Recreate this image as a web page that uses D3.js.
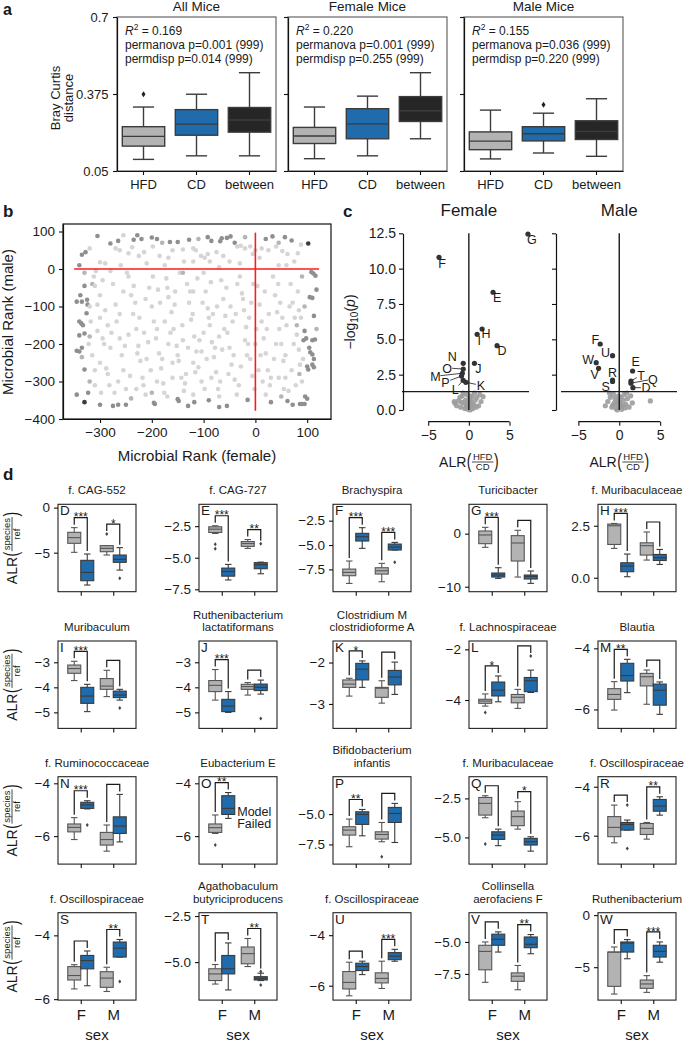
<!DOCTYPE html>
<html><head><meta charset="utf-8">
<script src="https://cdn.jsdelivr.net/npm/d3@7"></script>
<style>
body{margin:0;background:#fff}
text{font-family:"Liberation Sans",Arial,Helvetica,sans-serif;fill:#1a1a1a}
</style>
</head><body>
<script>
// ---------------- DATA ----------------
// Panel a : box stats [low, q1, median, q3, high]
const aGroups = ["HFD","CD","between"];
const aTitles = ["All Mice","Female Mice","Male Mice"];
const aTicks = [0.05,0.375,0.7];
const aTickLabels = ["0.05","0.375","0.7"];
const aAllMice = [[0.099,0.155,0.196,0.237,0.32],[0.114,0.201,0.248,0.309,0.374],[0.114,0.214,0.265,0.318,0.465]];
const aFemaleMice = [[0.102,0.166,0.198,0.234,0.32],[0.114,0.186,0.249,0.313,0.366],[0.186,0.259,0.304,0.364,0.465]];
const aMaleMice = [[0.101,0.140,0.176,0.215,0.307],[0.126,0.177,0.207,0.237,0.294],[0.112,0.183,0.217,0.262,0.355]];
const aOutliers = [[[0.374],[],[]],[[],[],[]],[[],[0.33],[]]];
const aR2 = ["0.169","0.220","0.155"];
const aPermanova = ["0.001","0.001","0.036"];
const aPermdisp = ["0.014","0.255","0.220"];

// Panel b : [female rank, male rank, shade(1 light..4 dark)]
const bPoints = [
[-305,88,3],[-280,68,3],[-265,75,3],[-235,78,3],[-228,90,3],[-220,80,3],[-200,84,3],[-190,80,3],[-165,72,3],[-150,72,3],[-128,78,3],[-92,85,3],[-85,75,3],[-68,74,3],[-65,82,3],[-55,83,3],[-48,87,3],[-40,70,3],[20,80,3],[33,87,3],[57,85,3],[70,76,3],[102,68,4],
[-255,90,1],[-290,15,1],[-300,18,1],[-270,55,1],[-262,50,1],[-245,42,1],[-238,58,1],[-225,35,1],[-215,45,1],[-210,15,1],[-198,60,1],[-185,35,1],[-175,10,1],[-168,30,1],[-160,50,1],[-140,52,1],[-138,20,1],[-120,55,1],[-115,50,1],[-105,35,1],[-98,30,1],[-92,40,1],[-88,20,1],[-75,45,1],[-70,5,1],[-62,35,1],[-50,20,1],[-35,60,1],[-28,62,1],[-20,55,1],[-10,60,1],[-5,40,1],[8,30,1],[12,55,1],[25,50,1],[40,60,1],[45,10,1],[52,48,1],[62,40,1],[75,20,1],[82,42,1],[88,65,1],[-320,55,1],[-280,-5,1],[-312,-20,1],
[-335,38,3],[-328,45,3],[-340,10,3],[-330,-45,3],[-338,-70,3],[-345,-87,3],[-335,-87,3],[-325,-82,3],[-324,-95,3],[-326,-118,3],[-340,-140,3],[-336,-145,3],[-333,-150,3],[-340,-177,3],[-330,-172,3],[-345,-218,3],[-340,-220,3],[-335,-210,3],[-330,-268,3],[-345,-335,3],[-323,-330,3],[-330,-355,4],
[108,-8,3],[112,-12,3],[116,-18,3],[118,-55,3],[105,-75,3],[110,-77,3],[113,-125,3],[95,-165,3],[98,-185,3],[93,-190,3],[110,-190,3],[115,-188,3],[104,-210,3],[106,-222,3],[110,-228,3],[113,-240,3],[110,-255,3],[113,-262,3],[100,-260,3],[102,-268,3],[96,-340,3],[100,-346,3],[86,-360,3],[90,-360,3],[95,-360,3],
[-300,-362,3],[-275,-365,3],[-265,-362,3],[-250,-362,3],[-196,-357,3],[-194,-360,3],[-150,-347,3],[-148,-352,3],[-130,-365,3],[-118,-355,3],[-90,-350,3],[-70,-368,3],[-55,-365,3],[-15,-349,3],[30,-355,3],[62,-352,3],[72,-362,3],
[-320,-300,2],[-335,-235,2],[-320,-180,2],[-315,-40,2],[90,-20,2],[95,-100,2],[85,-280,2],[-200,-330,2],[-240,-345,2],[50,-340,2],[-330,-10,2],[118,-160,2],[80,-150,2],
[-310,-45,1],[-300,-70,1],[-295,-30,1],[-290,-110,1],[-285,-150,1],[-292,-200,1],[-300,-250,1],[-285,-280,1],[-310,-310,1],[-298,-330,1],[-275,-40,1],[-270,-95,1],[-268,-140,1],[-262,-185,1],[-258,-230,1],[-255,-270,1],[-250,-320,1],[-245,-20,1],[-240,-70,1],[-236,-120,1],[-230,-160,1],[-226,-205,1],[-222,-245,1],[-218,-290,1],[-212,-335,1],[-205,-50,1],[-200,-100,1],[-196,-140,1],[-192,-185,1],[-186,-225,1],[-182,-265,1],[-178,-305,1],[-172,-25,1],[-168,-75,1],[-162,-115,1],[-158,-160,1],[-152,-205,1],[-148,-245,1],[-143,-290,1],[-138,-325,1],[-132,-40,1],[-128,-90,1],[-124,-135,1],[-118,-180,1],[-114,-220,1],[-110,-262,1],[-104,-300,1],[-100,-10,1],[-96,-60,1],[-92,-105,1],[-88,-150,1],[-84,-195,1],[-80,-235,1],[-76,-275,1],[-72,-320,1],[-66,-30,1],[-62,-80,1],[-58,-125,1],[-54,-170,1],[-50,-210,1],[-46,-255,1],[-40,-295,1],[-36,-335,1],[-30,-20,1],[-26,-65,1],[-22,-110,1],[-18,-155,1],[-14,-200,1],[-10,-240,1],[-6,-285,1],[-2,-320,1],[4,-45,1],[8,-95,1],[12,-140,1],[16,-185,1],[20,-225,1],[24,-270,1],[28,-310,1],[34,-20,1],[38,-70,1],[42,-115,1],[46,-160,1],[50,-200,1],[54,-245,1],[58,-290,1],[64,-325,1],[68,-40,1],[72,-90,1],[76,-130,1],[80,-175,1],[84,-215,1],[86,-255,1],[90,-300,1],[-320,-100,1],[-315,-230,1],[-305,-165,1],[-280,-210,1],[-265,-300,1],[-245,-175,1],[-232,-90,1],[-210,-240,1],[-190,-300,1],[-175,-140,1],[-155,-60,1],[-140,-190,1],[-120,-250,1],[-100,-170,1],[-82,-120,1],[-64,-215,1],[-44,-140,1],[-28,-260,1],[-8,-90,1],[14,-300,1],[36,-240,1],[60,-150,1],[82,-60,1],[-188,-55,1],[-168,-200,1],[-134,-280,1],[-104,-220,1],[-70,-180,1],[-48,-100,1],[-20,-190,1],[2,-160,1],[26,-120,1],[48,-90,1],[70,-270,1],[-300,-130,1],[-255,-60,1],[-215,-170,1],[-160,-250,1],[-120,-60,1],[-85,-290,1],[-35,-40,1],[10,-230,1],[55,-320,1],[88,-130,1],
[-305,-95,1],[-295,-185,1],[-288,-265,1],[-278,-170,1],[-272,-330,1],[-262,-120,1],[-252,-205,1],[-248,-10,1],[-242,-285,1],[-235,-45,1],[-228,-225,1],[-224,-130,1],[-216,-310,1],[-212,-80,1],[-207,-195,1],[-202,-270,1],[-198,-20,1],[-190,-160,1],[-184,-90,1],[-180,-240,1],[-176,-330,1],[-170,-50,1],[-164,-170,1],[-160,-290,1],[-156,-95,1],[-150,-230,1],[-146,-10,1],[-141,-150,1],[-136,-305,1],[-130,-210,1],[-126,-60,1],[-121,-120,1],[-116,-275,1],[-112,-25,1],[-108,-190,1],[-102,-90,1],[-98,-320,1],[-94,-240,1],[-90,-130,1],[-86,-35,1],[-78,-210,1],[-74,-100,1],[-68,-300,1],[-60,-160,1],[-56,-50,1],[-52,-280,1],[-42,-230,1],[-38,-120,1],[-32,-310,1],[-24,-80,1],[-16,-230,1],[-12,-130,1],[-4,-40,1],[0,-200,1],[6,-270,1],[18,-60,1],[22,-160,1],[30,-290,1],[40,-200,1],[44,-40,1],[52,-130,1],[58,-230,1],[66,-100,1],[74,-200,1],[78,-310,1],[84,-110,1],[92,-240,1],[-318,-140,1],[-310,-270,1],[-322,-200,1],[-308,-5,1],[-282,-310,1],[-70,-340,1],[-120,-335,1],[-170,-340,1],[-230,-320,1],[20,-335,1],[45,-290,1],[-140,-10,2],[-260,10,1],[-120,20,1],[-30,15,1],[60,10,1],[0,50,1],[-180,70,2],[-110,80,2],[-20,85,2],[45,70,2]
];
const bXTicks = [-300,-200,-100,0,100];
const bYTicks = [100,0,-100,-200,-300,-400];

// Panel c : volcano
const cFemaleSig = [["G",7.27,12.45],["F",-3.67,10.8],["E",2.98,8.33],["H",1.63,5.73],["I",1.02,5.35],["D",3.47,4.55],["J",0.69,3.30],["N",-0.69,3.30],["O",-0.69,2.9],["M",-0.8,2.6],["P",-0.9,2.4],["L",-0.7,2.1],["K",-0.37,1.96]];
const cFemaleNs = [[-1.8,0.6],[-1.5,0.3],[-1.3,0.64],[-1.7,0.47],[-1.0,0.2],[-0.8,1.0],[-0.6,0.5],[-0.5,0.1],[-0.4,0.7],[-0.3,0.3],[-0.2,1.1],[-0.1,0.05],[0,0.4],[0.1,0.8],[0.2,0.2],[0.3,0.6],[0.4,1.0],[0.5,0.1],[0.6,0.4],[0.8,0.7],[1.0,0.9],[1.2,0.3],[1.35,1.1],[1.75,0.94],[1.5,0.6],[-0.9,0.55],[0.15,0.0],[-0.05,0.2],[0.05,0.6],[0.25,0.9],[-0.25,0.15],[0.7,1.2],[-0.7,1.2],[0.35,0.35],[-0.15,0.45],[0.9,0.2],[-1.1,0.9],[0.0,1.0]];
const cMaleSig = [["F",-2.33,4.67],["U",-0.82,3.84],["W",-2.82,3.35],["V",-2.53,2.95],["R",-0.82,2.12],["S",-0.82,2.02],["E",1.63,2.76],["T",1.43,2.05],["Q",1.43,1.9],["D",1.67,1.58]];
const cMaleNs = [[3.8,0.64],[-1.7,0.3],[-1.4,0.6],[-1.1,0.9],[-0.9,0.2],[-0.7,1.1],[-0.6,0.5],[-0.5,0.8],[-0.4,0.1],[-0.3,0.4],[-0.2,0.7],[-0.1,1.0],[0,0.2],[0.1,0.5],[0.2,0.9],[0.3,0.05],[0.4,0.35],[0.5,0.7],[0.6,1.1],[0.8,0.4],[1.0,0.8],[1.2,0.2],[1.4,1.0],[1.6,0.5],[-1.2,1.2],[0.9,1.2],[-0.25,0.0],[0.15,0.25],[-0.05,0.6],[0.05,0.95],[0.7,0.15],[-0.8,0.35]];
const cYTicks = [0,2.5,5,7.5,10,12.5];
const cXTicks = [-5,0,5];

// Panel d
const dLetters = ["D","E","F","G","H","I","J","K","L","M","N","O","P","Q","R","S","T","U","V","W"];
const dTitles = ["f. CAG-552","f. CAG-727","Brachyspira","Turicibacter","f. Muribaculaceae",
 "Muribaculum","Ruthenibacterium\nlactatiformans","Clostridium M\nclostridioforme A","f. Lachnospiraceae","Blautia",
 "f. Ruminococcaceae","Eubacterium E","Bifidobacterium\ninfantis","f. Muribaculaceae","f. Oscillospiraceae",
 "f. Oscillospiraceae","Agathobaculum\nbutyriciproducens","f. Oscillospiraceae","Collinsella\naerofaciens F","Ruthenibacterium"];
const dDomains = [[-9.33,0.37],[-7.69,-0.77],[-9.79,-0.82],[-10.94,5.53],[-0.67,3.53],
 [-5.64,-2.15],[-5.64,-2.15],[-3.59,-1.48],[-5.12,-1.67],[-6.62,-3.76],
 [-7.06,-3.75],[-7.06,-3.75],[-9.12,-1.92],[-6.71,-1.11],[-7.16,-3.59],
 [-6.03,-3.29],[-7.06,-2.32],[-6.57,-3.11],[-9.55,-2.71],[-8.16,0.23]];
const dTicks = [[0,-5],[-2.5,-5,-7.5],[-2.5,-5,-7.5],[0,-10],[0,2.5],
 [-3,-4,-5],[-3,-4,-5],[-2,-3],[-2,-4],[-4,-6],
 [-4,-6],[-4,-6],[-5,-7.5],[-2.5,-5],[-4,-6],
 [-4,-6],[-2.5,-5],[-4,-6],[-5,-7.5],[0,-5]];
// [F HFD, F CD, M HFD, M CD], each [low,q1,median,q3,high]
const dBoxes = [
 [[-4.96,-3.96,-3.33,-2.74,-2.22],[-8.59,-8.11,-7.19,-5.85,-5.15],[-5.26,-4.89,-4.52,-4.22,-4.22],[-6.93,-6.07,-5.74,-5.26,-4.44]],
 [[-3.08,-3.0,-2.74,-2.55,-2.47],[-6.76,-6.46,-6.09,-5.82,-5.53],[-4.26,-4.1,-3.88,-3.72,-3.56],[-6.27,-5.87,-5.55,-5.39,-5.35]],
 [[-8.94,-8.15,-7.81,-7.47,-6.64],[-5.34,-4.59,-4.14,-3.80,-3.22],[-8.77,-7.98,-7.64,-7.33,-6.88],[-5.51,-5.51,-5.21,-4.90,-4.73]],
 [[-2.58,-1.89,-0.25,0.5,1.19],[-8.43,-8.18,-7.8,-7.42,-6.42],[-8.18,-5.16,-1.76,-0.38,0.63],[-9.37,-8.55,-8.05,-7.8,-7.04]],
 [[1.41,1.6,2.5,2.58,2.61],[0.05,0.29,0.56,0.72,1.14],[0.85,1.09,1.54,1.68,2.2],[0.64,0.83,0.96,1.12,1.36]],
 [[-3.73,-3.44,-3.25,-3.11,-2.96],[-4.97,-4.64,-4.35,-4.0,-3.88],[-4.37,-4.08,-3.95,-3.65,-3.32],[-4.51,-4.41,-4.31,-4.15,-4.08]],
 [[-4.51,-4.17,-3.92,-3.73,-3.29],[-5.0,-4.97,-4.75,-4.48,-4.17],[-4.31,-4.08,-3.97,-3.88,-3.81],[-4.27,-4.13,-4.0,-3.87,-3.71]],
 [[-2.81,-2.60,-2.52,-2.42,-2.38],[-2.6,-2.42,-2.16,-2.02,-1.96],[-2.98,-2.84,-2.62,-2.6,-2.44],[-2.77,-2.54,-2.35,-2.19,-1.99]],
 [[-4.24,-4.13,-4.04,-3.97,-3.76],[-4.07,-3.84,-3.61,-3.29,-3.05],[-4.33,-4.11,-3.89,-3.78,-3.58],[-3.70,-3.67,-3.24,-3.11,-2.82]],
 [[-6.02,-5.67,-5.51,-5.32,-5.09],[-5.45,-5.07,-4.89,-4.49,-4.36],[-5.83,-5.23,-4.93,-4.82,-4.71],[-6.16,-5.86,-5.37,-5.17,-5.1]],
 [[-6.13,-5.84,-5.67,-5.54,-5.30],[-4.97,-4.95,-4.82,-4.72,-4.66],[-6.57,-6.34,-6.13,-5.86,-5.58],[-6.22,-5.9,-5.62,-5.27,-4.42]],
 [[-5.9,-5.86,-5.68,-5.54,-5.2],[-5.33,-5.18,-4.95,-4.47,-4.35],null,null],
 [[-7.69,-6.73,-6.32,-6.04,-5.41],[-6.79,-5.85,-5.03,-4.81,-4.62],[-7.28,-7.06,-6.68,-6.46,-5.69],[-7.34,-5.69,-4.95,-4.45,-4.12]],
 [[-3.74,-3.57,-2.82,-2.44,-2.33],[-5.53,-5.13,-4.85,-4.64,-4.47],[-4.47,-4.25,-3.67,-3.31,-2.71],[-5.88,-5.49,-5.28,-5.06,-4.96]],
 [[-6.29,-6.04,-5.66,-5.22,-4.75],[-5.77,-5.77,-5.54,-5.46,-5.36],[-6.14,-5.95,-5.7,-5.5,-5.46],[-5.16,-5.0,-4.79,-4.52,-4.41]],
 [[-5.68,-5.4,-5.26,-4.98,-4.92],[-5.58,-5.05,-4.79,-4.63,-4.49],[-5.76,-5.63,-5.34,-5.14,-5.0],[-4.68,-4.68,-4.4,-4.21,-4.13]],
 [[-6.19,-6.0,-5.64,-5.36,-5.13],[-6.51,-5.64,-5.36,-4.64,-3.96],[-5.24,-5.09,-4.54,-4.18,-3.72],[-6.0,-5.97,-5.88,-5.79,-5.6]],
 [[-6.4,-6.13,-5.87,-5.44,-5.07],[-5.56,-5.4,-5.24,-5.11,-5.03],[-6.11,-5.89,-5.71,-5.49,-5.03],[-5.03,-4.97,-4.83,-4.69,-4.56]],
 [[-8.16,-7.18,-5.74,-5.26,-5.0],[-5.79,-5.26,-4.79,-4.39,-4.21],[-8.74,-8.08,-7.68,-7.42,-6.84],[-5.92,-5.45,-5.18,-4.61,-4.42]],
 [[-7.58,-6.84,-3.55,-3.55,-3.06],[-4.19,-3.55,-2.68,-2.58,-2.35],[-7.42,-7.03,-6.61,-6.23,-5.81],[-4.52,-4.03,-3.48,-2.9,-2.58]]
];
const dOutliers = [
 [[],[],[-2.93],[-7.85]],[[-3.93,-4.28],[],[],[-3.9]],[[],[],[],[-6.78]],[[],[],[],[]],[[],[],[],[]],
 [[],[],[],[-4.83]],[[],[],[],[-5.24]],[[],[],[],[]],[[-4.49],[],[],[-2.26]],[[],[],[],[]],
 [[],[-5.58],[],[]],[[-6.34],[],[],[]],[[],[],[-8.52],[]],[[-5.43],[],[],[]],[[],[-4.75,-6.52],[],[]],
 [[],[],[],[-5.45]],[[],[],[],[-5.51,-6.24]],[[],[],[],[]],[[],[],[],[]],[[],[],[],[]]
];
const dStars = [["***","*"],["***","**"],["***","***"],["***",""],["***",""],
 ["***",""],["***",""],["*",""],["*",""],["**",""],
 ["***",""],["**",null],["**",""],["","*"],["","**"],
 ["","**"],["","**"],["","***"],["","**"],["","***"]];
const dSex = ["F","M"];

// ---------------- LAYOUT / STYLE ----------------
const GREY="#b3b3b3", BLUE="#1f6bab", BLACKBOX="#262626";
const svg = d3.select("body").append("svg").attr("width",685).attr("height",1042);

function label(x,y,s,size,opts={}){
  const t=svg.append("text").attr("x",x).attr("y",y).style("font-size",size+"px").text(s);
  if(opts.anchor) t.attr("text-anchor",opts.anchor);
  if(opts.bold) t.style("font-weight","bold");
  return t;
}
function styleAxis(g,size,color){
  g.selectAll("path.domain").attr("stroke",color||"#111").attr("stroke-width",1.2);
  g.selectAll(".tick line").attr("stroke",color||"#111").attr("stroke-width",1.1);
  g.selectAll(".tick text").style("font-size",size+"px").attr("fill","#1a1a1a").style("font-family",'"Liberation Sans",Arial,sans-serif');
}
function drawBox(g,cx,w,s,y,fill,stroke,lw,capw){
  const [lo,q1,md,q3,hi]=s;
  const L=(x1,y1,x2,y2)=>g.append("line").attr("x1",x1).attr("y1",y1).attr("x2",x2).attr("y2",y2).attr("stroke",stroke).attr("stroke-width",lw);
  L(cx,y(hi),cx,y(q3)); L(cx,y(q1),cx,y(lo));
  L(cx-capw/2,y(hi),cx+capw/2,y(hi)); L(cx-capw/2,y(lo),cx+capw/2,y(lo));
  g.append("rect").attr("x",cx-w/2).attr("y",y(q3)).attr("width",w).attr("height",Math.max(0.5,y(q1)-y(q3)))
   .attr("fill",fill).attr("stroke",stroke).attr("stroke-width",lw);
  L(cx-w/2,y(md),cx+w/2,y(md));
}
function diamond(g,cx,cy,w,h,fill){
  g.append("path").attr("d",`M${cx},${cy-h/2}L${cx+w/2},${cy}L${cx},${cy+h/2}L${cx-w/2},${cy}Z`).attr("fill",fill);
}

// panel letters
label(3,15,"a",16,{bold:true});
label(3,217,"b",17,{bold:true});
label(343,217,"c",17,{bold:true});
label(3,480,"d",17,{bold:true});

// ---------------- PANEL A ----------------
const aData=[aAllMice,aFemaleMice,aMaleMice];
const aLefts=[117,288,464], aW=159, aTop=17, aBot=171;
const ya=d3.scaleLinear().domain([0.05,0.7]).range([aBot,aTop]);
const aFills=[GREY,BLUE,BLACKBOX];
aTitles.forEach((title,i)=>{
  const g=svg.append("g").attr("transform",`translate(${aLefts[i]},0)`);
  const xa=d3.scaleBand().domain(aGroups).range([0,aW]);
  g.append("rect").attr("x",0).attr("y",aTop).attr("width",aW).attr("height",aBot-aTop).attr("fill","none").attr("stroke","#666").attr("stroke-width",1.2);
  const yAx=g.append("g").call(d3.axisLeft(ya).tickValues(aTicks).tickSize(4).tickSizeOuter(0).tickPadding(4.5).tickFormat((d,k)=>i===0?aTickLabels[k]:""));
  styleAxis(yAx,13);
  const xAx=g.append("g").attr("transform",`translate(0,${aBot})`).call(d3.axisBottom(xa).tickSize(4).tickSizeOuter(0).tickPadding(5));
  styleAxis(xAx,13);
  g.append("text").attr("x",aW/2).attr("y",10.5).attr("text-anchor","middle").style("font-size","13.5px").text(title);
  aGroups.forEach((grp,j)=>{
    const cx=xa(grp)+xa.bandwidth()/2, w=xa.bandwidth()*0.8;
    drawBox(g,cx,w,aData[i][j],ya,aFills[j],"#3c3c3c",1.4,w/2);
    aOutliers[i][j].forEach(v=>diamond(g,cx,ya(v),4,6,"#222"));
  });
  const t1=g.append("text").attr("x",8).attr("y",35).style("font-size","12px");
  t1.append("tspan").style("font-style","italic").text("R");
  t1.append("tspan").attr("dy",-5).style("font-size","8.5px").text("2");
  t1.append("tspan").attr("dy",5).text(" = "+aR2[i]);
  g.append("text").attr("x",8).attr("y",49).style("font-size","12px").text(`permanova p=${aPermanova[i]} (999)`);
  g.append("text").attr("x",8).attr("y",63).style("font-size","12px").text(`permdisp p=${aPermdisp[i]} (999)`);
});
{
  const t=svg.append("text").attr("transform","translate(61,98) rotate(-90)").attr("text-anchor","middle").style("font-size","13px");
  t.append("tspan").attr("x",0).attr("dy",-1).text("Bray Curtis");
  t.append("tspan").attr("x",0).attr("dy",13).text("distance");
}

// ---------------- PANEL B ----------------
{
  const L=63,R=331,T=224,B=419;
  const xb=d3.scaleLinear().domain([-371.5,146]).range([L,R]);
  const yb=d3.scaleLinear().domain([-400,120]).range([B,T]);
  const shade={1:"#d5d5d5",2:"#b5b5b5",3:"#8f8f8f",4:"#3c3c3c"};
  const g=svg.append("g");
  g.selectAll("circle").data(bPoints).join("circle").attr("cx",d=>xb(d[0])).attr("cy",d=>yb(d[1])).attr("r",2.3).attr("fill",d=>shade[d[2]]);
  g.append("line").attr("x1",xb(-350)).attr("x2",xb(123)).attr("y1",yb(0)).attr("y2",yb(0)).attr("stroke","#ff1a1a").attr("stroke-width",1.6);
  g.append("line").attr("x1",xb(0)).attr("x2",xb(0)).attr("y1",yb(97)).attr("y2",yb(-378)).attr("stroke","#ff1a1a").attr("stroke-width",1.6);
  g.append("rect").attr("x",L).attr("y",T).attr("width",R-L).attr("height",B-T).attr("fill","none").attr("stroke","#111").attr("stroke-width",1.2);
  const xA=g.append("g").attr("transform",`translate(0,${B})`).call(d3.axisBottom(xb).tickValues(bXTicks).tickSize(4).tickSizeOuter(0).tickPadding(4));
  styleAxis(xA,13.5);
  const yA=g.append("g").attr("transform",`translate(${L},0)`).call(d3.axisLeft(yb).tickValues(bYTicks).tickSize(4).tickSizeOuter(0).tickPadding(4));
  styleAxis(yA,13.5);
  label((L+R)/2,461,"Microbial Rank (female)",15,{anchor:"middle"});
  svg.append("text").attr("transform","translate(13,322) rotate(-90)").attr("text-anchor","middle").style("font-size","15px").text("Microbial Rank (male)");
}

// ALR fraction label builder (local coords: baseline y=0)
function alrLabel(parent,num,den,fs,ffs){
  const g=parent.append("g");
  const t=g.append("text").attr("x",0).attr("y",0).style("font-size",fs+"px").text("ALR");
  let u=t.node().getComputedTextLength()+0.5;
  const bar=-5;
  const p1=g.append("text").attr("transform",`translate(${u},0.6) scale(1,1.5)`).style("font-size",fs+"px").text("(");
  u+=p1.node().getComputedTextLength()+0.5;
  const n=g.append("text").attr("y",bar-2).attr("text-anchor","middle").style("font-size",ffs+"px").text(num);
  const d=g.append("text").attr("y",bar+ffs*0.74+1).attr("text-anchor","middle").style("font-size",ffs+"px").text(den);
  const w=Math.max(n.node().getComputedTextLength(),d.node().getComputedTextLength())+2;
  n.attr("x",u+w/2); d.attr("x",u+w/2);
  g.append("line").attr("x1",u).attr("x2",u+w).attr("y1",bar).attr("y2",bar).attr("stroke","#1a1a1a").attr("stroke-width",0.8);
  u+=w+0.5;
  const p2=g.append("text").attr("transform",`translate(${u},0.6) scale(1,1.5)`).style("font-size",fs+"px").text(")");
  u+=p2.node().getComputedTextLength();
  return {g,width:u};
}

// ---------------- PANEL C ----------------
{
  const yc=d3.scaleLinear().domain([0,12.5]).range([410,233.3]);
  const defs=[
    {title:"Female",x:d3.scaleLinear().domain([-8.1,7.4]).range([403,529]),spine:403,sig:cFemaleSig,ns:cFemaleNs,labels:true,
     off:{G:[4,5,0],F:[3,6,0],E:[4,5,0],H:[4,4,0],I:[2,6,0],D:[5,5,0],J:[4,5,0],N:[-11,-7,0],O:[-16,-1,1],M:[-27,3,1],P:[-16,6,1],L:[-8,9,1],K:[15,3,1]}},
    {title:"Male",x:d3.scaleLinear().domain([-7,7.06]).range([562,677]),spine:556,sig:cMaleSig,ns:cMaleNs,labels:false,
     off:{F:[-5,-4,0],U:[-7,-3,0],W:[-8,-3,0],V:[-4,6,0],R:[0,-8,0],S:[-7,5,0],E:[3,-9,0],T:[10,-6,1],Q:[22,-4,1],D:[13,0,1]}}
  ];
  defs.forEach(df=>{
    const g=svg.append("g");
    const xc=df.x;
    g.selectAll("circle.ns").data(df.ns).join("circle").attr("class","ns").attr("cx",d=>xc(d[0])).attr("cy",d=>yc(d[1])).attr("r",2.6).attr("fill","#9c9c9c").attr("opacity",0.9);
    g.append("line").attr("x1",xc(0)).attr("x2",xc(0)).attr("y1",yc(0)).attr("y2",yc(12.5)).attr("stroke","#1a1a1a").attr("stroke-width",1.4);
    g.append("line").attr("x1",xc.range()[0]-1).attr("x2",xc.range()[1]).attr("y1",yc(-Math.log10(0.05))).attr("y2",yc(-Math.log10(0.05))).attr("stroke","#1a1a1a").attr("stroke-width",1.4);
    df.sig.forEach(([lab,vx,vy])=>{
      const px=xc(vx),py=yc(vy),o=df.off[lab];
      const lx=px+o[0],ly=py+o[1];
      if(o[2]){
        const dx=lx-px,dy=ly-py,len=Math.hypot(dx,dy);
        g.append("line").attr("x1",px).attr("y1",py).attr("x2",lx-dx/len*5).attr("y2",ly-dy/len*5).attr("stroke","#1a1a1a").attr("stroke-width",0.8);
      }
      g.append("circle").attr("cx",px).attr("cy",py).attr("r",2.6).attr("fill","#333");
      g.append("text").attr("x",lx).attr("y",ly).attr("dy","0.36em").attr("text-anchor","middle").style("font-size","12.5px").text(lab);
    });
    const yA=g.append("g").attr("transform",`translate(${df.spine},0)`).call(d3.axisLeft(yc).tickValues(cYTicks).tickSize(4).tickSizeOuter(0).tickPadding(3).tickFormat(df.labels?d3.format(".1f"):""));
    styleAxis(yA,14);
    const xA=g.append("g").attr("transform","translate(0,421.7)").call(d3.axisBottom(xc).tickValues(cXTicks).tickSize(4).tickSizeOuter(0).tickPadding(4));
    xA.select("path.domain").attr("d",`M${xc(-5)},0H${xc(5)}`);
    styleAxis(xA,14);
    g.append("text").attr("x",xc(0)).attr("y",215.7).attr("text-anchor","middle").style("font-size","17px").text(df.title);
    const al=alrLabel(g,"HFD","CD",14,9.5);
    al.g.attr("transform",`translate(${xc(0)-al.width/2},467)`);
  });
  const t=svg.append("text").attr("transform","translate(355,322) rotate(-90)").attr("text-anchor","middle").style("font-size","14px");
  t.append("tspan").text("\u2212log");
  t.append("tspan").attr("dy",3).style("font-size","10px").text("10");
  t.append("tspan").attr("dy",-3).text("(");
  t.append("tspan").style("font-style","italic").text("p");
  t.append("tspan").text(")");
}

// ---------------- PANEL D ----------------
{
  const dCols=[58,199,333,469,598], dRows=[504.3,641,776.7,912.7], dW=78, dH=87.4;
  const gx=d3.scaleLinear().domain([-0.7,1.7]).range([0,dW]);
  const hue=[[0,-0.2,GREY,"#555"],[0,0.2,BLUE,"#3a3a3a"],[1,-0.2,GREY,"#555"],[1,0.2,BLUE,"#3a3a3a"]];
  dLetters.forEach((L,k)=>{
    const col=k%5,row=Math.floor(k/5);
    const g=svg.append("g").attr("transform",`translate(${dCols[col]},${dRows[row]})`);
    const y=d3.scaleLinear().domain(dDomains[k]).range([dH,0]);
    const bw=gx(0.4)-gx(0);
    dBoxes[k].forEach((s,j)=>{
      if(!s) return;
      const [c,off,fill,stroke]=hue[j];
      const cx=gx(c+off);
      drawBox(g,cx,bw,s,y,fill,stroke,1.1,bw/2);
      dOutliers[k][j].forEach(v=>diamond(g,cx,y(v),3,4,"#444"));
    });
    // brackets
    [0,1].forEach(c=>{
      const st=dStars[k][c];
      if(st===null) return;
      const sg=dBoxes[k][c*2], sb=dBoxes[k][c*2+1];
      const mg=Math.max(sg[4],...dOutliers[k][c*2]), mb=Math.max(sb[4],...dOutliers[k][c*2+1]);
      const top=Math.max(y(Math.max(mg,mb))-10,3);
      const x1=gx(c-0.2),x2=gx(c+0.2);
      g.append("path").attr("d",`M${x1},${y(mg)-3}V${top}H${x2}V${y(mb)-3}`).attr("fill","none").attr("stroke","#1a1a1a").attr("stroke-width",1.2);
      if(st) g.append("text").attr("x",(x1+x2)/2).attr("y",top+3.7).attr("text-anchor","middle").style("font-size","12px").text(st);
    });
    if(dBoxes[k][2]===null){
      g.append("text").attr("x",gx(1)).attr("y",39).attr("text-anchor","middle").style("font-size","12.5px").text("Model");
      g.append("text").attr("x",gx(1)).attr("y",51.5).attr("text-anchor","middle").style("font-size","12.5px").text("Failed");
    }
    g.append("rect").attr("width",dW).attr("height",dH).attr("fill","none").attr("stroke","#222").attr("stroke-width",1.1);
    const fmt=dTicks[k].some(t=>!Number.isInteger(t))?d3.format(".1f"):d3.format("d");
    const yA=g.append("g").call(d3.axisLeft(y).tickValues(dTicks[k]).tickSize(4).tickSizeOuter(0).tickPadding(4).tickFormat(fmt));
    yA.select("path.domain").remove();
    styleAxis(yA,13.5);
    const xA=g.append("g").attr("transform",`translate(0,${dH})`).call(d3.axisBottom(gx).tickValues([0,1]).tickSize(4).tickSizeOuter(0).tickPadding(5).tickFormat((d,i)=>row===3?dSex[i]:""));
    xA.select("path.domain").remove();
    styleAxis(xA,15);
    g.append("text").attr("x",2).attr("y",10.8).style("font-size","13.5px").text(L);
    const lines=dTitles[k].split("\n");
    lines.forEach((ln,li)=>{
      g.append("text").attr("x",dW/2).attr("y",-10-(lines.length-1-li)*12.5).attr("text-anchor","middle").style("font-size","11.5px").text(ln);
    });
    if(row===3) g.append("text").attr("x",dW/2).attr("y",127.5).attr("text-anchor","middle").style("font-size","15px").text("sex");
    if(col===0){
      const al=alrLabel(svg,"species","ref",14,9.5);
      al.g.attr("transform",`translate(17,${dRows[row]+dH/2+al.width/2}) rotate(-90)`);
    }
  });
}
</script>
</body></html>
